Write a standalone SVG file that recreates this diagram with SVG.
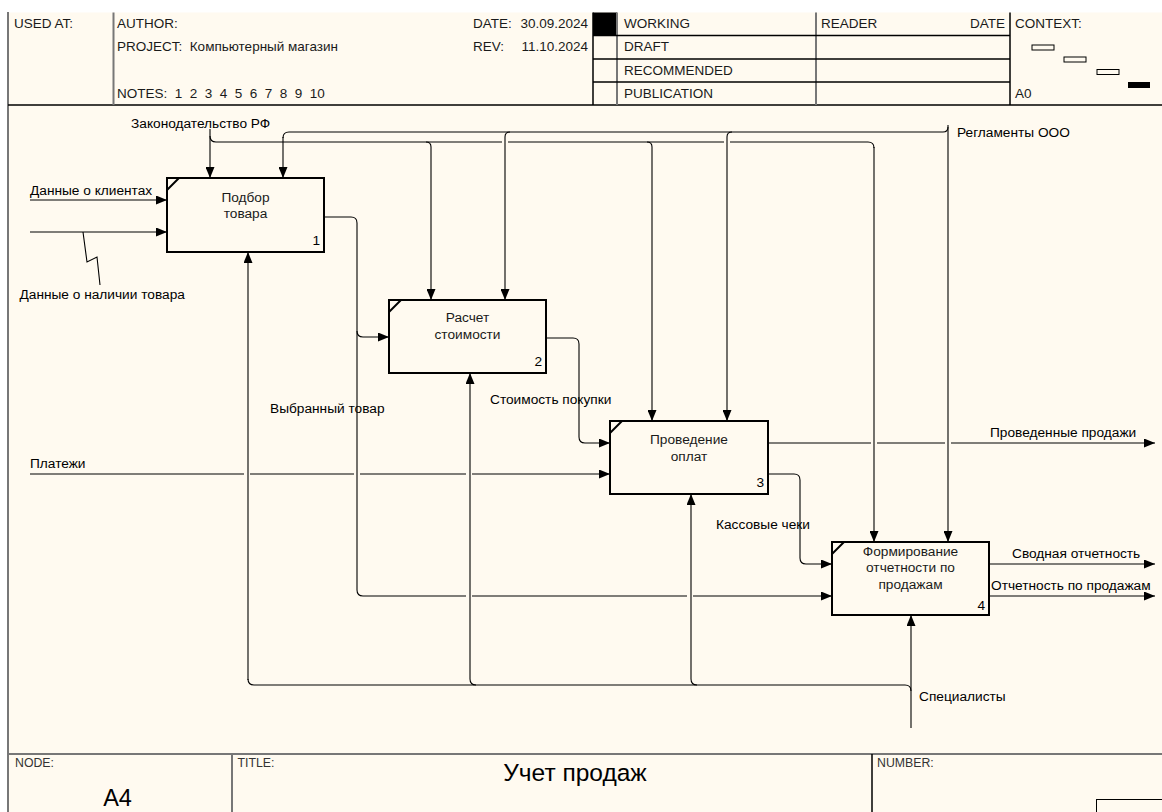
<svg xmlns="http://www.w3.org/2000/svg" width="1162" height="812" viewBox="0 0 1162 812">
  <defs>
    <marker id="ah" markerUnits="userSpaceOnUse" markerWidth="11" markerHeight="9" refX="11" refY="4.5" orient="auto">
      <path d="M0,0 L11,4.5 L0,9 Z" fill="#000"/>
    </marker>
  </defs>
  <style>
    text { font-family: "Liberation Sans", Arial, sans-serif; fill: #000; }
    .hdr { font-size: 13.5px; fill: #1a1a1a; }
    .ftr { font-size: 12.3px; fill: #333; }
    .lbl { font-size: 13.7px; }
    .box { fill: none; stroke: #000; stroke-width: 2; }
    .btx { font-size: 13.7px; text-anchor: middle; fill: #1a1a1a; }
    .num { font-size: 13.7px; text-anchor: end; }
    .con { fill: none; stroke: #000; stroke-width: 1.1; }
    .arr { marker-end: url(#ah); }
    .ln { stroke: #000; stroke-width: 1.5; fill: none; }
    .gl { stroke: #777; stroke-width: 2; fill: none; }
  </style>

  <rect x="0" y="0" width="1162" height="812" fill="#ffffff"/>
  <rect x="8" y="12.5" width="1154" height="799.5" fill="#fffaf0"/>

  <g id="frame">
    <line class="gl" x1="8" y1="12" x2="8" y2="812"/>
    <line class="ln" x1="8" y1="105" x2="1162" y2="105"/>
    <line class="gl" x1="113.5" y1="12.5" x2="113.5" y2="105"/>
    <line class="ln" x1="593" y1="12.5" x2="593" y2="105"/>
    <rect x="593" y="12.5" width="24" height="23" fill="#000"/>
    <line class="gl" x1="617" y1="12.5" x2="617" y2="105"/>
    <line class="gl" x1="816" y1="12.5" x2="816" y2="105"/>
    <line class="ln" x1="1010" y1="12.5" x2="1010" y2="105"/>
    <line class="ln" x1="593" y1="35.5" x2="1010" y2="35.5"/>
    <line class="ln" x1="593" y1="59" x2="1010" y2="59"/>
    <line class="ln" x1="593" y1="82" x2="1010" y2="82"/>
    <text class="hdr" x="14" y="28">USED AT:</text>
    <text class="hdr" x="117" y="28">AUTHOR:</text>
    <text class="hdr" x="117" y="51" xml:space="preserve">PROJECT:  Компьютерный магазин</text>
    <text class="hdr" x="117" y="98" xml:space="preserve">NOTES:  1  2  3  4  5  6  7  8  9  10</text>
    <text class="hdr" x="473" y="28">DATE:</text>
    <text class="hdr" x="588" y="28" text-anchor="end">30.09.2024</text>
    <text class="hdr" x="473" y="51">REV:</text>
    <text class="hdr" x="588" y="51" text-anchor="end">11.10.2024</text>
    <text class="hdr" x="624" y="28">WORKING</text>
    <text class="hdr" x="624" y="51">DRAFT</text>
    <text class="hdr" x="624" y="75">RECOMMENDED</text>
    <text class="hdr" x="624" y="98">PUBLICATION</text>
    <text class="hdr" x="821" y="28">READER</text>
    <text class="hdr" x="1005" y="28" text-anchor="end">DATE</text>
    <text class="hdr" x="1015" y="28">CONTEXT:</text>
    <text class="hdr" x="1015" y="98">A0</text>
    <rect x="1032" y="45" width="22" height="5" fill="none" stroke="#000" stroke-width="1"/>
    <rect x="1064" y="57" width="22" height="5" fill="none" stroke="#000" stroke-width="1"/>
    <rect x="1097" y="69.5" width="22" height="5" fill="none" stroke="#000" stroke-width="1"/>
    <rect x="1128" y="82" width="22" height="6" fill="#000"/>

    <line class="gl" x1="8" y1="754" x2="1162" y2="754"/>
    <line class="gl" x1="232" y1="754" x2="232" y2="812"/>
    <line class="ln" x1="872" y1="754" x2="872" y2="812"/>
    <text class="ftr" x="15" y="767">NODE:</text>
    <text class="ftr" x="237.5" y="767">TITLE:</text>
    <text class="ftr" x="877" y="767">NUMBER:</text>
    <text x="117.5" y="806" font-size="23.5" text-anchor="middle">A4</text>
    <text x="575" y="780.5" font-size="24.5" text-anchor="middle">Учет продаж</text>
    <rect x="1096.5" y="799.5" width="70" height="20" fill="none" stroke="#000" stroke-width="1"/>
  </g>

  <g id="connectors">
    <!-- Законодательство РФ -->
    <path class="con arr" d="M210,129 V178"/>
    <path class="con" d="M210,136 Q210,142 216,142 H502 M508,142 H724 M730,142 H868 Q874,142 874,148"/>
    <path class="con arr" d="M874,147 V542"/>
    <path class="con arr" d="M426,142 Q431,142 431,147 V300"/>
    <path class="con arr" d="M647,142 Q652,142 652,147 V421"/>
    <!-- Регламенты ООО -->
    <path class="con arr" d="M948,125 V542"/>
    <path class="con" d="M948,127 Q948,132 943,132 H289 Q283,132 283,138"/>
    <path class="con arr" d="M283,137 V178"/>
    <path class="con arr" d="M510,132 Q505,132 505,137 V300"/>
    <path class="con arr" d="M732,132 Q727,132 727,137 V421"/>
    <!-- inputs -->
    <path class="con arr" d="M30,200 H167"/>
    <path class="con arr" d="M30,232 H167"/>
    <path class="con" d="M83,232 L87,262 L97,257 L100,285"/>
    <path class="con arr" d="M30,474 H244 M250,474 H354 M360,474 H466 M472,474 H610"/>
    <!-- Выбранный товар -->
    <path class="con" d="M324,217 H351 Q357,217 357,223 V590 Q357,596 363,596 H466 M472,596 H687"/>
    <path class="con arr" d="M693,596 H832"/>
    <path class="con arr" d="M357,331 Q357,337 363,337 H389"/>
    <!-- Стоимость покупки -->
    <path class="con arr" d="M546,338 H573 Q579,338 579,344 V437 Q579,443 585,443 H610"/>
    <!-- box 3 outputs -->
    <path class="con" d="M768,443 H871 M877,443 H945"/>
    <path class="con arr" d="M951,443 H1155"/>
    <path class="con arr" d="M768,474 H794 Q800,474 800,480 V558 Q800,564 806,564 H832"/>
    <!-- box 4 outputs -->
    <path class="con arr" d="M989,564 H1155"/>
    <path class="con arr" d="M989,596 H1155"/>
    <!-- Специалисты -->
    <path class="con arr" d="M911,728 V615"/>
    <path class="con" d="M911,691 Q911,685 905,685 H254 Q248,685 248,679"/>
    <path class="con arr" d="M248,680 V252"/>
    <path class="con arr" d="M476,685 Q470,685 470,679 V373"/>
    <path class="con arr" d="M697,685 Q691,685 691,679 V494"/>
  </g>

  <g id="labels">
    <text class="lbl" x="131" y="127.5">Законодательство РФ</text>
    <text class="lbl" x="957" y="136.5">Регламенты ООО</text>
    <text class="lbl" x="30" y="194.5">Данные о клиентах</text>
    <text class="lbl" x="19.5" y="298.5">Данные о наличии товара</text>
    <text class="lbl" x="30" y="467.5">Платежи</text>
    <text class="lbl" x="270" y="412.5">Выбранный товар</text>
    <text class="lbl" x="490" y="403.5">Стоимость покупки</text>
    <text class="lbl" x="990" y="436.5">Проведенные продажи</text>
    <text class="lbl" x="716" y="528.5">Кассовые чеки</text>
    <text class="lbl" x="1012" y="557.5">Сводная отчетность</text>
    <text class="lbl" x="991" y="589.5">Отчетность по продажам</text>
    <text class="lbl" x="919" y="700.5">Специалисты</text>
  </g>

  <g id="node1">
    <rect class="box" x="167" y="178" width="157" height="74"/>
    <line x1="167" y1="190" x2="179" y2="178" stroke="#000" stroke-width="2"/>
    <text class="btx" x="245.5" y="201.5">Подбор</text>
    <text class="btx" x="245.5" y="218">товара</text>
    <text class="num" x="320" y="245">1</text>
  </g>
  <g id="node2">
    <rect class="box" x="389" y="300" width="157" height="73"/>
    <line x1="389" y1="312" x2="401" y2="300" stroke="#000" stroke-width="2"/>
    <text class="btx" x="467.5" y="321.5">Расчет</text>
    <text class="btx" x="467.5" y="338.5">стоимости</text>
    <text class="num" x="542" y="366">2</text>
  </g>
  <g id="node3">
    <rect class="box" x="610" y="421" width="158" height="73"/>
    <line x1="610" y1="433" x2="622" y2="421" stroke="#000" stroke-width="2"/>
    <text class="btx" x="689" y="443.5">Проведение</text>
    <text class="btx" x="689" y="460.5">оплат</text>
    <text class="num" x="764" y="487">3</text>
  </g>
  <g id="node4">
    <rect class="box" x="832" y="542" width="157" height="73"/>
    <line x1="832" y1="554" x2="844" y2="542" stroke="#000" stroke-width="2"/>
    <text class="btx" x="910.5" y="556">Формирование</text>
    <text class="btx" x="910.5" y="572">отчетности по</text>
    <text class="btx" x="910.5" y="588.5">продажам</text>
    <text class="num" x="985" y="609.5">4</text>
  </g>
</svg>
